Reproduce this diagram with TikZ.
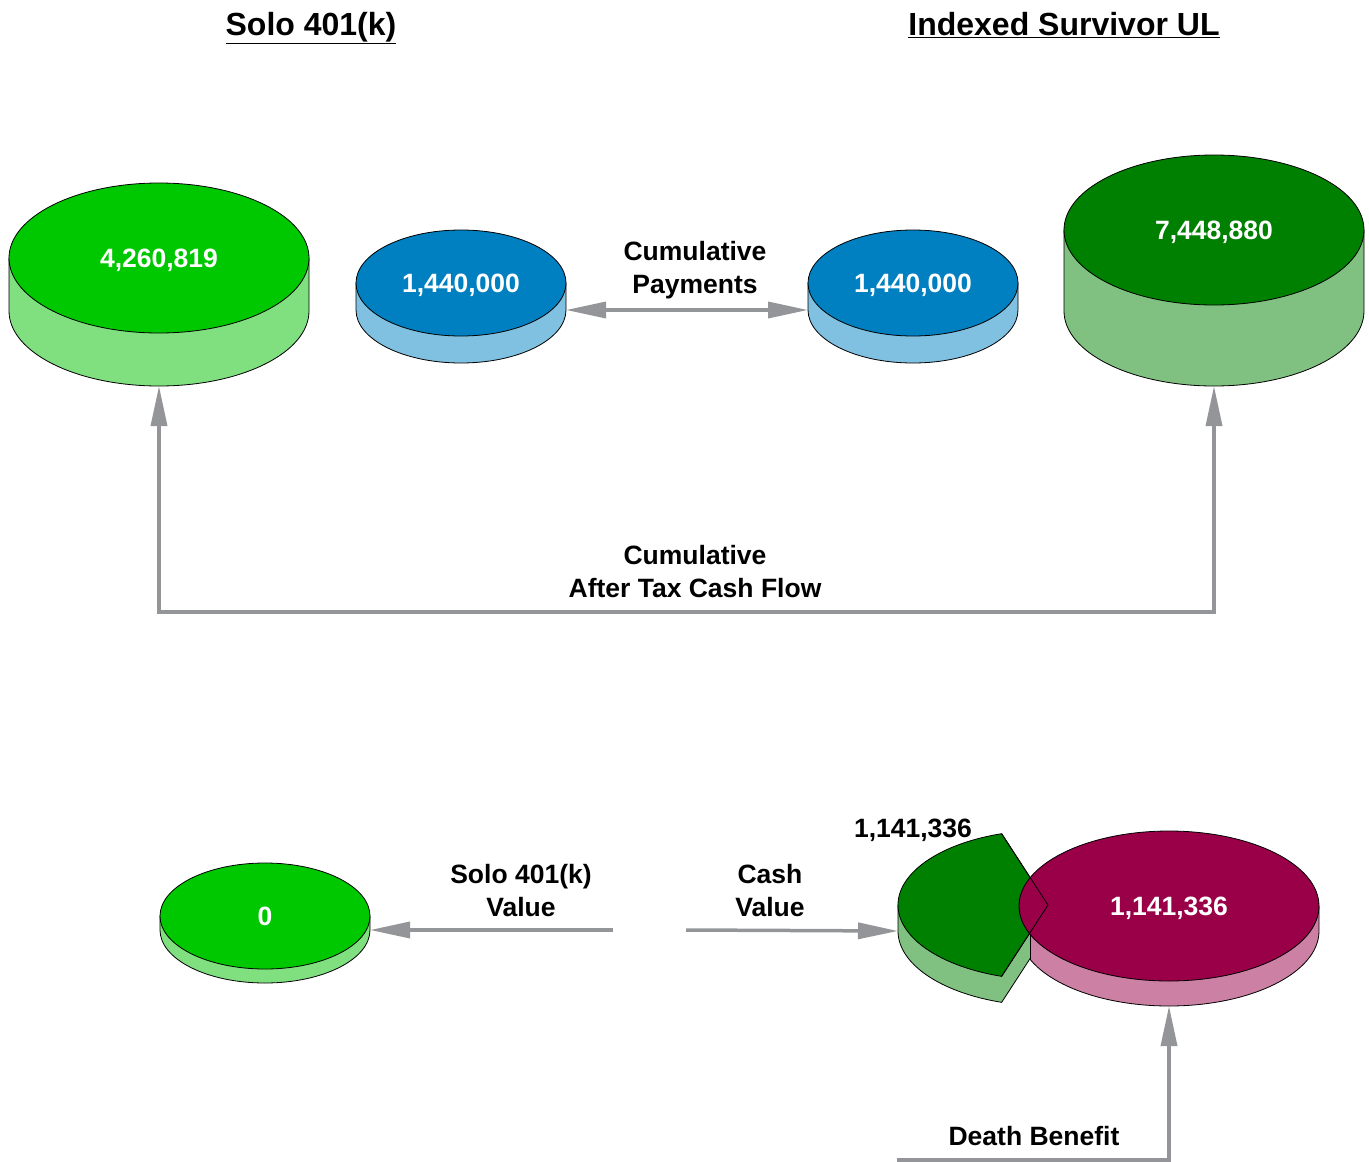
\documentclass[tikz,border=0pt]{standalone}
\usepackage{fontspec}
\setmainfont{Liberation Sans}
\usetikzlibrary{arrows.meta,positioning}
\definecolor{grntop}{HTML}{00C800}
\definecolor{grnside}{HTML}{80E080}
\definecolor{blutop}{HTML}{0080C0}
\definecolor{bluside}{HTML}{80C0E0}
\definecolor{dgtop}{HTML}{008000}
\definecolor{dgside}{HTML}{80C080}
\definecolor{mgtop}{HTML}{990048}
\definecolor{mgside}{HTML}{CC80A4}
\definecolor{arrowgray}{HTML}{939598}
\tikzset{disc/.style={draw=black,line width=0.8pt},
  num/.style={text=white,inner sep=0pt,text depth=0pt,font=\fontsize{26.5}{32}\selectfont\bfseries},
  lbl/.style={align=center,inner sep=0pt,font=\fontsize{26.5}{33}\selectfont\bfseries},
  ttl/.style={inner sep=0pt,anchor=base,font=\fontsize{32}{38}\selectfont\bfseries},
  conn/.style={draw=arrowgray,line width=3.5pt},
  tip/.style={-{Triangle[length=40pt,width=16pt]}}}
% side of a drum: x, y, x radius, y radius, height, colour
\newcommand{\drumside}[6]{%
  \draw[disc,fill=#6] (#1-#3,#2) -- (#1-#3,#2+#5) arc[start angle=180,end angle=360,x radius=#3pt,y radius=#4pt] -- (#1+#3,#2) -- cycle;}
% top of a drum: name, x, y, x radius, y radius, height, colour, text
\newcommand{\drumtop}[8]{%
  \draw[disc,fill=#7] (#2,#3) ellipse[x radius=#4pt,y radius=#5pt];
  \node[num] (#1) at (#2,#3) {#8};
  \coordinate (#1 w) at (#2-#4,#3+#6);
  \coordinate (#1 e) at (#2+#4,#3+#6);
  \coordinate (#1 b) at (#2,#3+#5+#6);}
\begin{document}
\begin{tikzpicture}[x=1pt,y=-1pt]
\useasboundingbox (0,0) rectangle (1369,1162);
% titles
\node[ttl] (solo) at (311,35) {\underline{Solo 401(k)}};
\node[ttl] (iul) at (1064,35) {\underline{Indexed Survivor UL}};
% top row
\drumside{159}{258}{150}{75}{53}{grnside}
\drumtop{gl}{159}{258}{150}{75}{53}{grntop}{4,260,819}
\drumside{461}{283}{105}{53}{27}{bluside}
\drumtop{bl}{461}{283}{105}{53}{27}{blutop}{1,440,000}
\drumside{913}{283}{105}{53}{27}{bluside}
\drumtop{br}{913}{283}{105}{53}{27}{blutop}{1,440,000}
\drumside{1214}{230}{150}{75}{81}{dgside}
\drumtop{dg}{1214}{230}{150}{75}{81}{dgtop}{7,448,880}
% bottom row
\drumside{265}{916}{105}{53}{14}{grnside}
\drumtop{gs}{265}{916}{105}{53}{14}{grntop}{0}
\drumside{1169}{906}{150}{75}{25}{mgside}
\begin{scope}
  \clip (880,820) rectangle (1030,1010);
  \draw[disc,fill=dgside] (898,905) -- (898,931) arc[start angle=180,end angle=252,x radius=150pt,y radius=75pt] -- (1048,931) -- (1048,905) -- cycle;
\end{scope}
\draw[disc] (1030,933) -- (1030,959);
\draw[disc,fill=dgtop] (1048,905) -- ++(108:150pt and 75pt) arc[start angle=108,end angle=252,x radius=150pt,y radius=75pt] -- cycle;
\coordinate (cv w) at (898,931);
\drumtop{mg}{1169}{906}{150}{75}{25}{mgtop}{1,141,336}
\draw[disc] (1048,905) -- ++(108:150pt and 75pt) (1048,905) -- ++(252:150pt and 75pt);
\node[lbl] (cvnum) at (913,830) {1,141,336};
% labels
\node[lbl] (pay) at (695,270) {Cumulative\\Payments};
\node[lbl] (flow) at (695,572) {Cumulative\\After Tax Cash Flow};
\node[lbl] (sval) at (521,891) {Solo 401(k)\\Value};
\node[lbl] (cval) at (770,891) {Cash\\Value};
\node[lbl] (dben) at (1034,1136) {Death Benefit};
\coordinate (flowline) at (695,612);
\coordinate (svend) at (613,930);
\coordinate (cvend) at (686,930);
\coordinate (dbend) at (897,1160);
% connectors
\draw[conn,{Triangle[length=40pt,width=16pt]}-{Triangle[length=40pt,width=16pt]}] (bl e) -- (br w);
\draw[conn,{Triangle[length=40pt,width=16pt]}-{Triangle[length=40pt,width=16pt]}] (gl b) -- (gl b |- flowline) -- (dg b |- flowline) -- (dg b);
\draw[conn,tip] (svend) -- (gs e);
\draw[conn,tip] (cvend) -- (cv w);
\draw[conn,tip] (dbend) -- (mg b |- dbend) -- (mg b);
\end{tikzpicture}
\end{document}
